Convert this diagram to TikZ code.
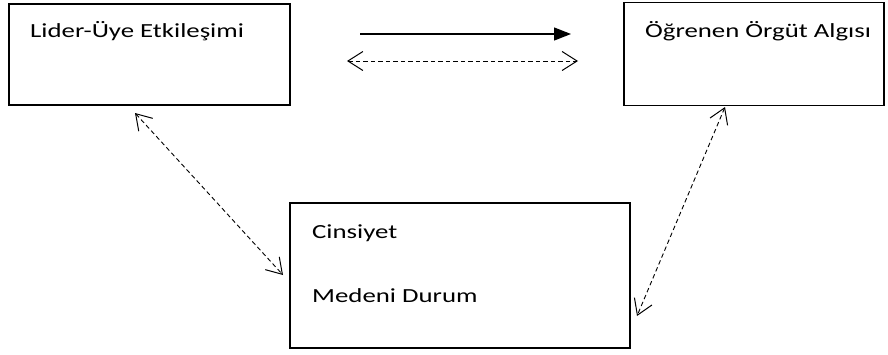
\documentclass[tikz,border=0pt]{standalone}
\usepackage{fontspec}
\newfontfamily\diafont[FakeStretch=1.34]{Carlito}
\usetikzlibrary{arrows.meta}
\tikzset{
  box/.style={draw=black, line width=1.5pt, rectangle, inner sep=0pt},
  txt/.style={anchor=base west, inner sep=0pt, font=\diafont\fontsize{20}{24}\selectfont},
  solidarrow/.style={line width=1.3pt, -{Triangle[length=17pt,width=13pt]}},
  dasharrow/.style={line width=0.9pt, dash pattern=on 4.5pt off 3pt, {Straight Barb[length=15pt,width=19pt,line width=1pt]}-{Straight Barb[length=15pt,width=19pt,line width=1pt]}}
}
\begin{document}
\begin{tikzpicture}[x=1pt,y=-1pt]
\useasboundingbox (0,0) rectangle (888,354);
\node[box, minimum width=281pt, minimum height=101pt] (lmx) at (149.5,54.5) {};
\node[box, minimum width=260pt, minimum height=103pt] (oo) at (754,54) {};
\node[box, minimum width=340pt, minimum height=145pt] (dem) at (460,275.5) {};
\node[txt] (lmxt) at (30,37) {Lider-Üye Etkileşimi};
\node[txt] (oot) at (645,37) {Öğrenen Örgüt Algısı};
\node[txt] (demt1) at (312,238) {Cinsiyet};
\node[txt] (demt2) at (312,302) {Medeni Durum};
\coordinate (s1) at (360,34);
\coordinate (s2) at (571,34);
\coordinate (d1) at (347,61);
\coordinate (d2) at (578,61);
\coordinate (l1) at (135,113);
\coordinate (l2) at (283,275);
\coordinate (r1) at (725,107);
\coordinate (r2) at (637,316);
\draw[solidarrow] (s1) -- (s2);
\draw[dasharrow] (d1) -- (d2);
\draw[dasharrow] (l1) -- (l2);
\draw[dasharrow] (r1) -- (r2);
\end{tikzpicture}
\end{document}
